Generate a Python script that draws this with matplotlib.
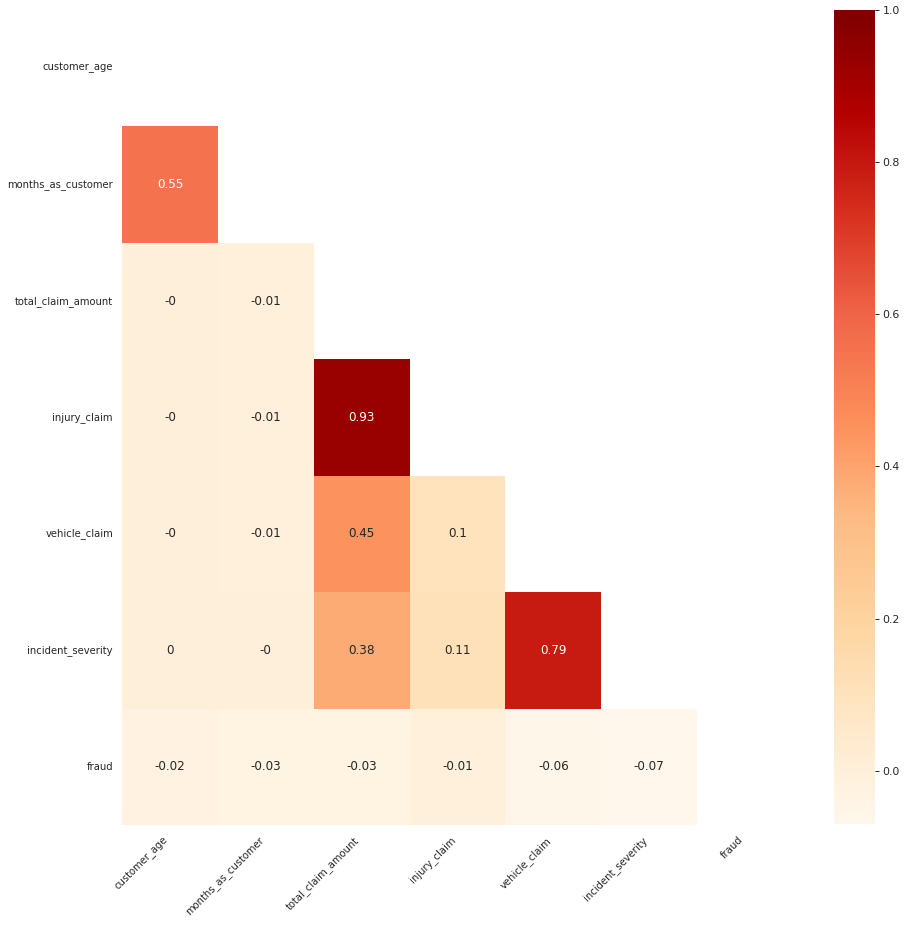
import numpy as np
import pandas as pd
import matplotlib
matplotlib.use("Agg")
import matplotlib.pyplot as plt
import seaborn as sns

sns.set_theme(style="white")

cols = ["customer_age", "months_as_customer", "total_claim_amount",
        "injury_claim", "vehicle_claim", "incident_severity", "fraud"]

# lower triangle of the (rounded) correlation matrix, row by row
row_months = [0.55]
row_total = [-0.0, -0.01]
row_injury = [-0.0, -0.01, 0.93]
row_vehicle = [-0.0, -0.01, 0.45, 0.1]
row_severity = [0.0, -0.0, 0.38, 0.11, 0.79]
row_fraud = [-0.02, -0.03, -0.03, -0.01, -0.06, -0.07]

lower = [[], row_months, row_total, row_injury, row_vehicle, row_severity, row_fraud]
n = len(cols)
corr = np.eye(n)
for i, row in enumerate(lower):
    for j, v in enumerate(row):
        corr[i, j] = v
        corr[j, i] = v
corr = pd.DataFrame(corr, index=cols, columns=cols)

mask = np.triu(np.ones_like(corr, dtype=bool))

W, H = 908, 925
fig = plt.figure(figsize=(W / 72, H / 72), dpi=72)
ax = fig.add_axes([122 / W, 1 - 825 / H, (793 - 122) / W, (825 - 10) / H])
cax = fig.add_axes([834 / W, 1 - 824 / H, (875 - 834) / W, (824 - 10) / H])

sns.heatmap(corr, mask=mask, annot=True, cmap="OrRd", vmax=1,
            ax=ax, cbar_ax=cax)

ax.set_xticklabels(ax.get_xticklabels(), rotation=45, ha="right")
ax.set_yticklabels(ax.get_yticklabels(), rotation=0)
ax.tick_params(axis="both", labelsize=10, length=0)
ax.tick_params(axis="y", pad=9)
ax.tick_params(axis="x", pad=10)
cax.tick_params(right=True, length=4, width=1, labelsize=11, color=".15")

fig.savefig("out.png", dpi=72)
